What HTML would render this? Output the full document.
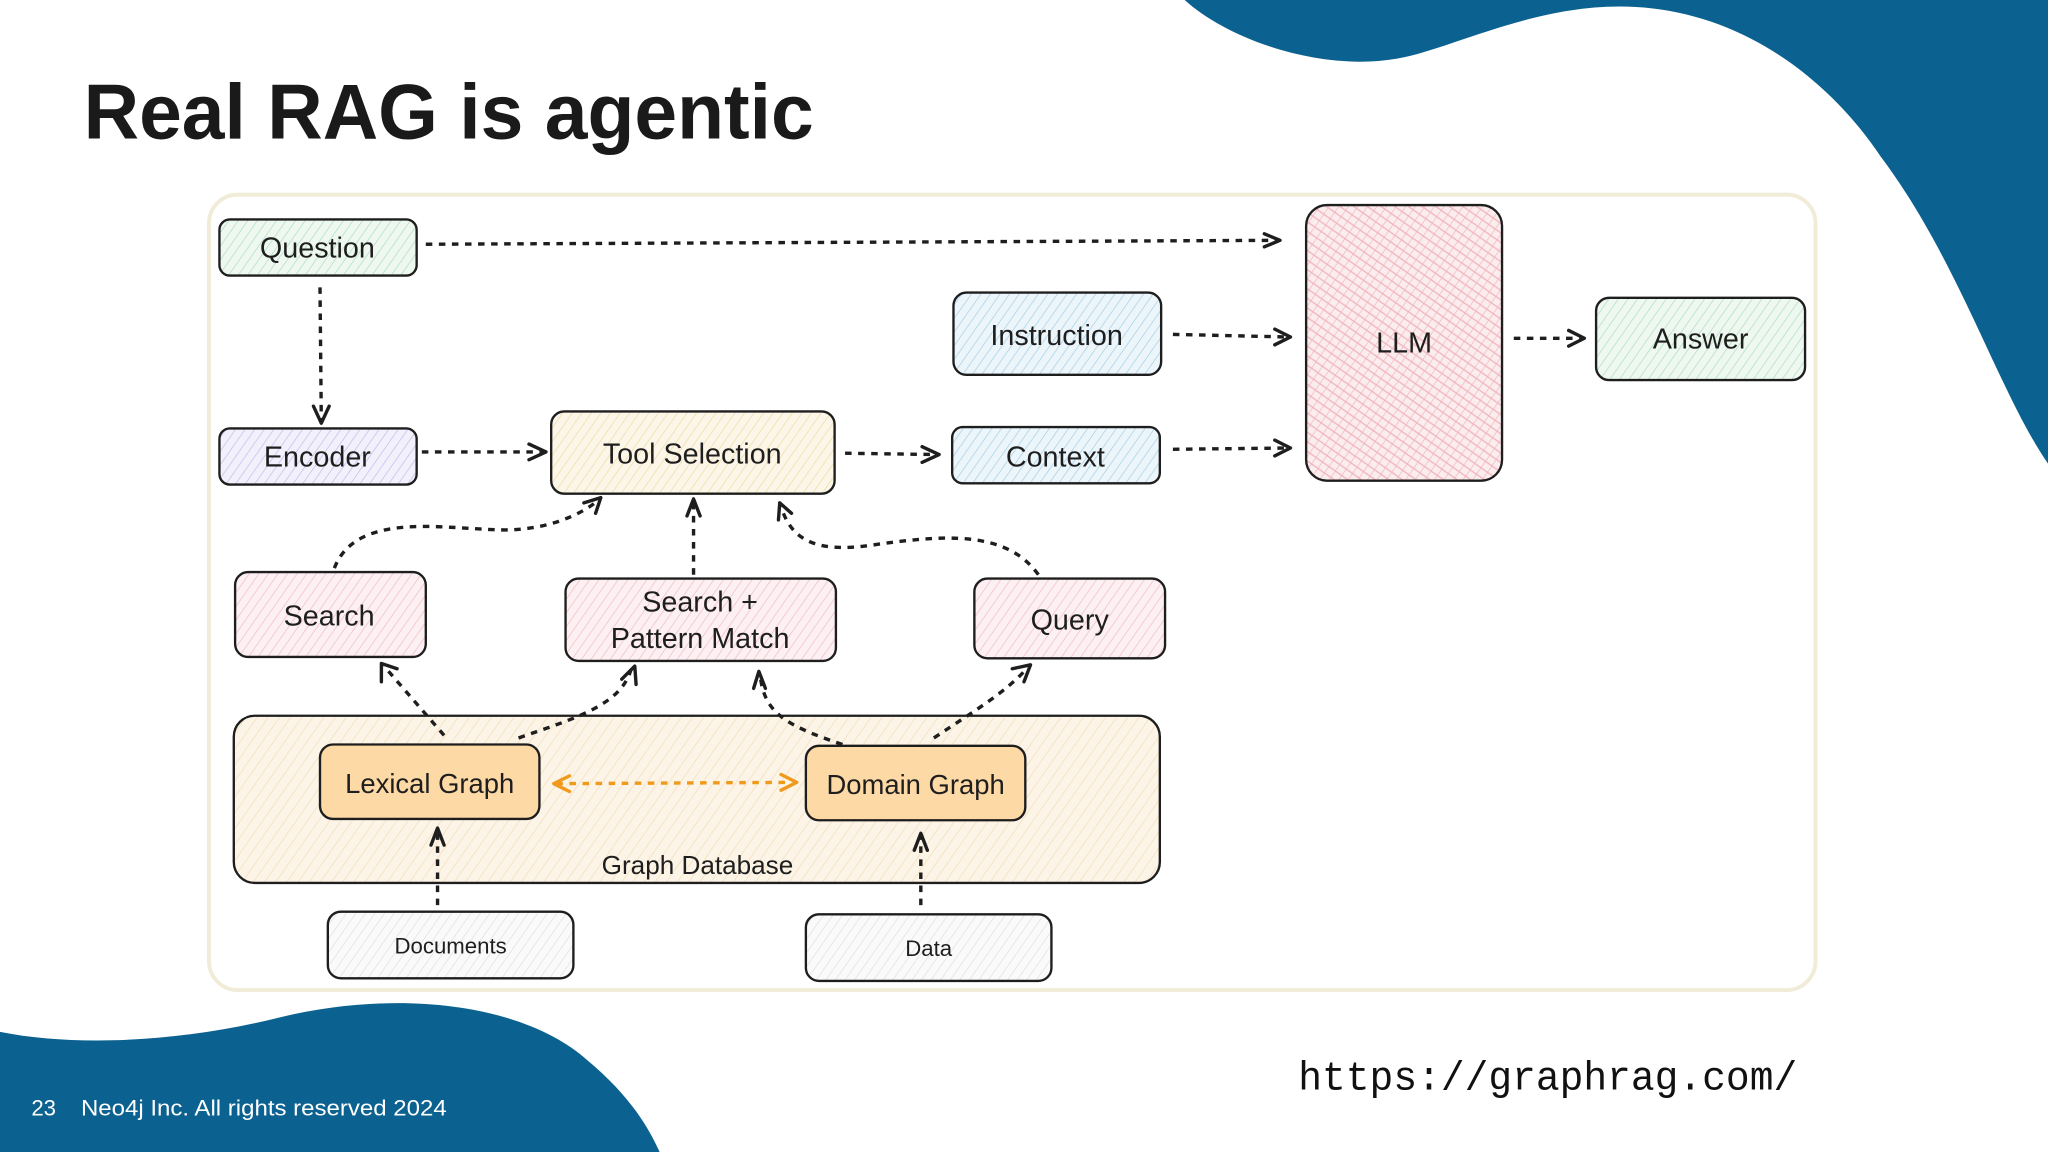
<!DOCTYPE html>
<html><head><meta charset="utf-8"><style>
html,body{margin:0;padding:0;background:#fff;}
svg{display:block;}
text{font-family:"Liberation Sans",sans-serif;}
text.mono{font-family:"Liberation Mono",monospace;}
</style></head><body>
<svg width="2048" height="1152" viewBox="0 0 1568 882" xmlns="http://www.w3.org/2000/svg">
<defs>
<pattern id="hg" width="6" height="6" patternUnits="userSpaceOnUse" patternTransform="rotate(35)"><rect width="6" height="6" fill="#eef8f1"/><line x1="0" y1="0" x2="0" y2="6" stroke="#a8dcb8" stroke-width="1"/></pattern>
<pattern id="hb" width="6" height="6" patternUnits="userSpaceOnUse" patternTransform="rotate(35)"><rect width="6" height="6" fill="#ecf5fa"/><line x1="0" y1="0" x2="0" y2="6" stroke="#9fcde6" stroke-width="1"/></pattern>
<pattern id="hpu" width="6" height="6" patternUnits="userSpaceOnUse" patternTransform="rotate(35)"><rect width="6" height="6" fill="#f1f0fb"/><line x1="0" y1="0" x2="0" y2="6" stroke="#bfb9ec" stroke-width="1"/></pattern>
<pattern id="hy" width="6" height="6" patternUnits="userSpaceOnUse" patternTransform="rotate(35)"><rect width="6" height="6" fill="#fcf6e8"/><line x1="0" y1="0" x2="0" y2="6" stroke="#f0d8a0" stroke-width="1"/></pattern>
<pattern id="hp" width="6" height="6" patternUnits="userSpaceOnUse" patternTransform="rotate(35)"><rect width="6" height="6" fill="#fcf0f3"/><line x1="0" y1="0" x2="0" y2="6" stroke="#f0b8c4" stroke-width="1"/></pattern>
<pattern id="hx" width="6" height="6" patternUnits="userSpaceOnUse" patternTransform="rotate(35)"><rect width="6" height="6" fill="#fbecee"/><line x1="0" y1="0" x2="0" y2="6" stroke="#f0b4bc" stroke-width="1"/><line x1="0" y1="3" x2="6" y2="3" stroke="#f0b4bc" stroke-width="1"/></pattern>
<pattern id="ho" width="7" height="7" patternUnits="userSpaceOnUse" patternTransform="rotate(35)"><rect width="7" height="7" fill="#fcf4e6"/><line x1="0" y1="0" x2="0" y2="7" stroke="#f2dcb8" stroke-width="1"/></pattern>
<pattern id="hw" width="6" height="6" patternUnits="userSpaceOnUse" patternTransform="rotate(35)"><rect width="6" height="6" fill="#fafafa"/><line x1="0" y1="0" x2="0" y2="6" stroke="#dedede" stroke-width="1"/></pattern>
</defs>
<path d="M907,0 C940,30 1010,55 1069,45 C1110,38 1170,5 1240,5 C1330,5 1400,60 1440,120 C1500,200 1530,300 1568,355 L1568,0 Z" fill="#0b6190"/>
<path d="M0,790 C60,802 140,797 210,780 C300,757 400,767 450,812 C480,837 495,860 505,882 L0,882 Z" fill="#0b6190"/>
<text x="64" y="106" font-size="60" font-weight="bold" fill="#1a1a1a" textLength="559" lengthAdjust="spacingAndGlyphs">Real RAG is agentic</text>
<rect x="160" y="149" width="1230" height="609" rx="22" fill="#fff" stroke="#f1ecd8" stroke-width="3"/>
<g stroke="#1e1e1e" stroke-width="1.8">
<rect x="168" y="168" width="151" height="43" rx="8" fill="url(#hg)"/>
<rect x="730" y="224" width="159" height="63" rx="10" fill="url(#hb)"/>
<rect x="1000" y="157" width="150" height="211" rx="16" fill="url(#hx)"/>
<rect x="1222" y="228" width="160" height="63" rx="10" fill="url(#hg)"/>
<rect x="168" y="328" width="151" height="43" rx="8" fill="url(#hpu)"/>
<rect x="422" y="315" width="217" height="63" rx="10" fill="url(#hy)"/>
<rect x="729" y="327" width="159" height="43" rx="8" fill="url(#hb)"/>
<rect x="180" y="438" width="146" height="65" rx="10" fill="url(#hp)"/>
<rect x="433" y="443" width="207" height="63" rx="10" fill="url(#hp)"/>
<rect x="746" y="443" width="146" height="61" rx="10" fill="url(#hp)"/>
<rect x="179" y="548" width="709" height="128" rx="16" fill="url(#ho)"/>
<rect x="245" y="570" width="168" height="57" rx="10" fill="#fdd9a6"/>
<rect x="617" y="571" width="168" height="57" rx="10" fill="#fdd9a6"/>
<rect x="251" y="698" width="188" height="51" rx="10" fill="url(#hw)"/>
<rect x="617" y="700" width="188" height="51" rx="10" fill="url(#hw)"/>
</g>
<g font-size="22" fill="#1e1e1e" text-anchor="middle">
<text x="243" y="197">Question</text>
<text x="809" y="264">Instruction</text>
<text x="1075" y="270">LLM</text>
<text x="1302" y="267">Answer</text>
<text x="243" y="357">Encoder</text>
<text x="530" y="355">Tool Selection</text>
<text x="808" y="357">Context</text>
<text x="252" y="479">Search</text>
<text x="536" y="468">Search +</text>
<text x="536" y="496">Pattern Match</text>
<text x="819" y="482">Query</text>
<text x="329" y="607" font-size="21">Lexical Graph</text>
<text x="701" y="608" font-size="21">Domain Graph</text>
<text x="534" y="669" font-size="20">Graph Database</text>
<text x="345" y="730" font-size="17">Documents</text>
<text x="711" y="732" font-size="17">Data</text>
</g>
<g fill="none" stroke="#1e1e1e" stroke-width="2.6" stroke-dasharray="5,5">
<path d="M326,187 L978,184"/>
<path d="M245,220 L246,322"/>
<path d="M323,346 L416,346"/>
<path d="M647,347 L716,348"/>
<path d="M898,256 L986,258"/>
<path d="M898,344 L986,343"/>
<path d="M1159,259 L1210,259"/>
<path d="M256,435 C275,385 360,410 400,405 C430,402 450,390 458,383"/>
<path d="M531,440 L531,385"/>
<path d="M795,440 C770,405 720,410 670,417 C620,425 605,410 598,388"/>
<path d="M340,563 L294,510"/>
<path d="M397,565 C440,550 475,540 483,513"/>
<path d="M645,570 C600,555 585,545 582,517"/>
<path d="M715,565 C745,545 770,530 786,512"/>
<path d="M335,693 L335,636"/>
<path d="M705,693 L705,640"/>
</g>
<path d="M426,600 L606,599" fill="none" stroke="#ef9a1c" stroke-width="2.6" stroke-dasharray="5,5"/>
<g fill="none" stroke="#1e1e1e" stroke-width="2.6" stroke-linecap="round" stroke-linejoin="round">
<path d="M968,179 L980,184 L968,189"/>
<path d="M240,311 L246,324 L252,311"/>
<path d="M405,340 L418,346 L405,352"/>
<path d="M706,342 L719,348 L706,354"/>
<path d="M976,252 L988,258 L976,264"/>
<path d="M976,337 L988,343 L976,349"/>
<path d="M1201,253 L1213,259 L1201,265"/>
<path d="M447,385 L460,381 L456,393"/>
<path d="M526,395 L531,382 L536,395"/>
<path d="M596,398 L597,385 L606,393"/>
<path d="M292,522 L292,508 L304,512"/>
<path d="M476,520 L486,510 L487,524"/>
<path d="M577,527 L581,514 L586,527"/>
<path d="M775,512 L789,509 L784,522"/>
<path d="M330,647 L335,634 L340,647"/>
<path d="M700,651 L705,638 L710,651"/>
</g>
<g fill="none" stroke="#ef9a1c" stroke-width="2.6" stroke-linecap="round" stroke-linejoin="round">
<path d="M436,594 L424,600 L436,606"/>
<path d="M598,593 L610,599 L598,605"/>
</g>
<text x="24" y="854" font-size="17" fill="#fff">23</text>
<text x="62" y="854" font-size="17" fill="#fff" textLength="280" lengthAdjust="spacingAndGlyphs">Neo4j Inc. All rights reserved 2024</text>
<text class="mono" x="994" y="834" font-size="31" fill="#111" textLength="382" lengthAdjust="spacingAndGlyphs">https://graphrag.com/</text>
</svg>
</body></html>
